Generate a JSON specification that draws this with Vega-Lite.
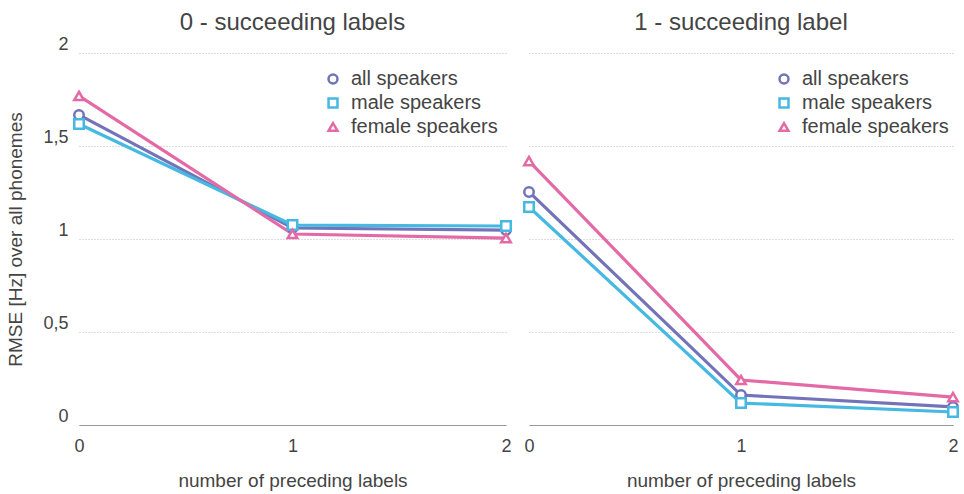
{
  "$schema": "https://vega.github.io/schema/vega-lite/v6.json",
  "padding": {"left": 6, "top": 11, "right": 12, "bottom": 2},
  "background": "white",
  "config": {
    "font": "Liberation Sans",
    "view": {"stroke": null},
    "title": {"fontSize": 24, "fontWeight": "normal", "color": "#444444"},
    "axis": {
      "labelFont": "Liberation Sans",
      "labelFontSize": 18,
      "labelColor": "#444444",
      "titleFont": "Liberation Sans",
      "titleFontSize": 19,
      "titleFontWeight": "normal",
      "titleColor": "#444444",
      "ticks": false,
      "gridColor": "#bbbbbb",
      "gridDash": [1, 2],
      "gridWidth": 1
    },
    "legend": {
      "labelFontSize": 20,
      "labelColor": "#444444",
      "labelFont": "Liberation Sans",
      "symbolStrokeWidth": 2.5,
      "symbolSize": 80,
      "rowPadding": 4,
      "labelOffset": 8
    }
  },
  "data": {
    "values": [
      {"panel": 0, "preceding": 0, "speakers": "all speakers", "rmse": 1.667},
      {"panel": 0, "preceding": 1, "speakers": "all speakers", "rmse": 1.059},
      {"panel": 0, "preceding": 2, "speakers": "all speakers", "rmse": 1.048},
      {"panel": 0, "preceding": 0, "speakers": "male speakers", "rmse": 1.618},
      {"panel": 0, "preceding": 1, "speakers": "male speakers", "rmse": 1.075},
      {"panel": 0, "preceding": 2, "speakers": "male speakers", "rmse": 1.07},
      {"panel": 0, "preceding": 0, "speakers": "female speakers", "rmse": 1.769},
      {"panel": 0, "preceding": 1, "speakers": "female speakers", "rmse": 1.027},
      {"panel": 0, "preceding": 2, "speakers": "female speakers", "rmse": 1.005},
      {"panel": 1, "preceding": 0, "speakers": "all speakers", "rmse": 1.253},
      {"panel": 1, "preceding": 1, "speakers": "all speakers", "rmse": 0.161},
      {"panel": 1, "preceding": 2, "speakers": "all speakers", "rmse": 0.097},
      {"panel": 1, "preceding": 0, "speakers": "male speakers", "rmse": 1.172},
      {"panel": 1, "preceding": 1, "speakers": "male speakers", "rmse": 0.118},
      {"panel": 1, "preceding": 2, "speakers": "male speakers", "rmse": 0.07},
      {"panel": 1, "preceding": 0, "speakers": "female speakers", "rmse": 1.419},
      {"panel": 1, "preceding": 1, "speakers": "female speakers", "rmse": 0.242},
      {"panel": 1, "preceding": 2, "speakers": "female speakers", "rmse": 0.15}
    ]
  },
  "spacing": 3,
  "resolve": {"legend": {"color": "independent", "shape": "independent"}},
  "hconcat": [
    {
      "title": {"text": "0 - succeeding labels", "offset": 0},
      "width": 427,
      "height": 372,
      "transform": [{"filter": "datum.panel == 0"}],
      "encoding": {
        "x": {
          "field": "preceding", "type": "quantitative",
          "scale": {"domain": [0, 2], "nice": false, "zero": false},
          "axis": {"values": [0, 1, 2], "labelExpr": "'' + datum.value", "grid": false, "domain": true, "domainColor": "#999999", "domainWidth": 1, "labelPadding": 12, "titlePadding": 16, "title": "number of preceding labels", "labelOverlap": false, "labelSeparation": 0, "labelFlush": false}
        },
        "y": {
          "field": "rmse", "type": "quantitative",
          "scale": {"domain": [0, 2], "nice": false},
          "axis": {"values": [0, 0.5, 1, 1.5, 2], "labelExpr": "replace(format(datum.value, '~g'), '.', ',')", "domain": false, "grid": true, "labelBaseline": "bottom", "labelPadding": 11, "titlePadding": 17, "title": "RMSE [Hz] over all phonemes"}
        },
        "color": {
          "field": "speakers", "type": "nominal",
          "scale": {"domain": ["all speakers", "male speakers", "female speakers"], "range": ["#7373b9", "#45b9e2", "#e46aa6"]},
          "legend": {"title": null, "orient": "none", "legendX": 244, "legendY": 16}
        }
      },
      "layer": [
        {"mark": {"type": "line", "strokeWidth": 3.2}},
        {
          "mark": {"type": "point", "filled": false, "strokeWidth": 2.5, "size": 90, "opacity": 1, "fill": "white"},
          "encoding": {
            "shape": {
              "field": "speakers", "type": "nominal",
              "scale": {"domain": ["all speakers", "male speakers", "female speakers"], "range": ["circle", "square", "triangle-up"]},
              "legend": {"title": null, "orient": "none", "legendX": 244, "legendY": 16}
            }
          }
        }
      ]
    },
    {
      "title": {"text": "1 - succeeding label", "offset": 18},
      "width": 424,
      "height": 372,
      "transform": [{"filter": "datum.panel == 1"}],
      "encoding": {
        "x": {
          "field": "preceding", "type": "quantitative",
          "scale": {"domain": [0, 2], "nice": false, "zero": false},
          "axis": {"values": [0, 1, 2], "labelExpr": "'' + datum.value", "grid": false, "domain": true, "domainColor": "#999999", "domainWidth": 1, "labelPadding": 12, "titlePadding": 16, "title": "number of preceding labels", "labelOverlap": false, "labelSeparation": 0, "labelFlush": false}
        },
        "y": {
          "field": "rmse", "type": "quantitative",
          "scale": {"domain": [0, 2], "nice": false},
          "axis": {"values": [0, 0.5, 1, 1.5, 2], "labels": false, "domain": false, "grid": true, "title": null}
        },
        "color": {
          "field": "speakers", "type": "nominal",
          "scale": {"domain": ["all speakers", "male speakers", "female speakers"], "range": ["#7373b9", "#45b9e2", "#e46aa6"]},
          "legend": {"title": null, "orient": "none", "legendX": 245, "legendY": 16}
        }
      },
      "layer": [
        {"mark": {"type": "line", "strokeWidth": 3.2}},
        {
          "mark": {"type": "point", "filled": false, "strokeWidth": 2.5, "size": 90, "opacity": 1, "fill": "white"},
          "encoding": {
            "shape": {
              "field": "speakers", "type": "nominal",
              "scale": {"domain": ["all speakers", "male speakers", "female speakers"], "range": ["circle", "square", "triangle-up"]},
              "legend": {"title": null, "orient": "none", "legendX": 245, "legendY": 16}
            }
          }
        }
      ]
    }
  ]
}
